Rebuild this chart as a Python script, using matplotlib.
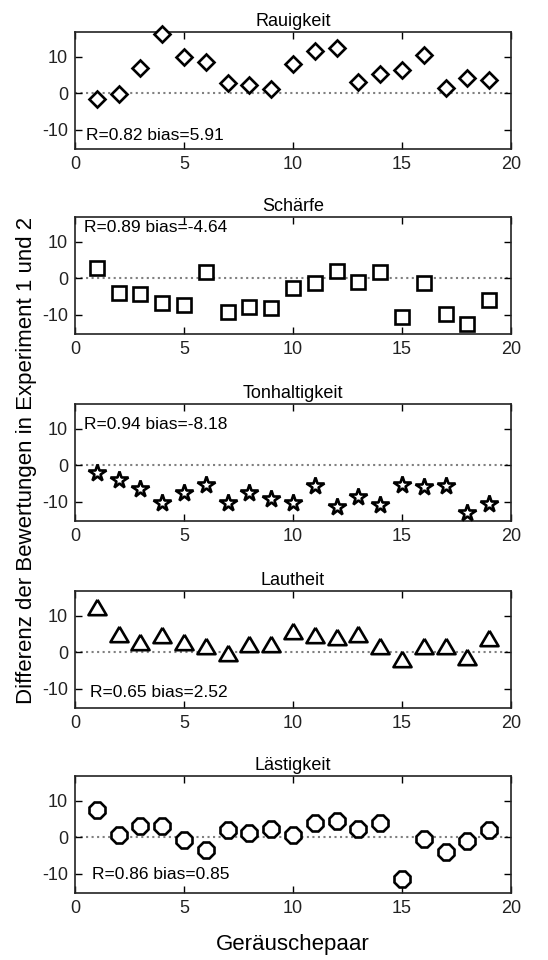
import numpy as np
import matplotlib
matplotlib.use('Agg')
import matplotlib.pyplot as plt

plt.rcParams['font.family'] = ['Liberation Sans', 'DejaVu Sans']
plt.rcParams['axes.unicode_minus'] = False

pairs = np.arange(1, 20)

titles = ['Rauigkeit', 'Schärfe', 'Tonhaltigkeit', 'Lautheit', 'Lästigkeit']
stats = ['R=0.82 bias=5.91', 'R=0.89 bias=-4.64', 'R=0.94 bias=-8.18',
         'R=0.65 bias=2.52', 'R=0.86 bias=0.85']

rauigkeit = [-1.6, -0.2, 6.9, 16.2, 10.0, 8.5, 2.8, 2.3, 1.1, 8.1,
             11.6, 12.5, 3.2, 5.4, 6.5, 10.6, 1.5, 4.3, 3.5]
schaerfe = [2.8, -4.1, -4.4, -6.7, -7.4, 1.6, -9.3, -8.0, -8.3, -2.7,
            -1.3, 1.9, -1.1, 1.6, -10.7, -1.2, -9.7, -12.5, -6.0]
tonhaltigkeit = [-2.2, -4.0, -6.6, -10.3, -7.7, -5.4, -10.3, -7.7, -9.4, -10.3,
                 -5.6, -11.4, -8.6, -10.9, -5.4, -5.9, -5.7, -13.2, -10.5]
lautheit = [12.4, 5.0, 2.8, 4.8, 2.9, 1.8, -0.1, 2.3, 2.3, 5.7,
            4.7, 4.3, 4.9, 1.7, -1.9, 1.7, 1.7, -1.2, 3.9]
laestigkeit = [7.4, 0.7, 3.2, 3.2, -0.7, -3.4, 1.9, 1.2, 2.3, 0.7,
               3.9, 4.5, 2.3, 3.8, -11.5, -0.5, -4.1, -1.0, 1.9]

series = [rauigkeit, schaerfe, tonhaltigkeit, lautheit, laestigkeit]

tri = [(0, 0.85), (-1, -0.85), (1, -0.85), (0, 0.85)]
markers = ['D', 's', '*', tri, '8']
msizes = [8.5, 10.5, 13, 13, 12]
# position of the R/bias text (data coords)
text_pos = [(0.5, -11.7), (0.4, 13.8), (0.4, 11.2), (0.7, -11.1), (0.8, -10.2)]

fig = plt.figure(figsize=(5.48, 9.6), dpi=100)

tops = [32, 217, 404, 591, 776]
h = 117
axes = []
for i in range(5):
    ax = fig.add_axes([75 / 548, 1 - (tops[i] + h) / 960, 436 / 548, h / 960])
    axes.append(ax)
    ax.plot([0, 20], [0, 0], ':', color='#808080', lw=1.5, zorder=1)
    ax.plot(pairs, series[i], linestyle='none', marker=markers[i],
            ms=msizes[i], mfc='white', mec='black', mew=1.9, zorder=3,
            clip_on=False)
    ax.set_xlim(0, 20)
    ax.set_ylim(-15.3, 16.8)
    ax.set_xticks([0, 5, 10, 15, 20])
    ax.set_yticks([-10, 0, 10])
    ax.tick_params(direction='in', top=True, right=True, length=5,
                   labelsize=13, width=1, pad=5, labelcolor='#222222')
    for s in ax.spines.values():
        s.set_linewidth(1.2)
        s.set_color('#222222')
    ax.set_title(titles[i], fontsize=13, pad=4)
    ax.text(text_pos[i][0], text_pos[i][1], stats[i], fontsize=12.5,
            ha='left', va='center')

axes[-1].set_xlabel('Geräuschepaar', fontsize=16, labelpad=12)
fig.text(27 / 548, 1 - 460 / 960, 'Differenz der Bewertungen in Experiment 1 und 2',
         rotation=90, ha='center', va='center', fontsize=16)

fig.savefig('out.png', dpi=100)
